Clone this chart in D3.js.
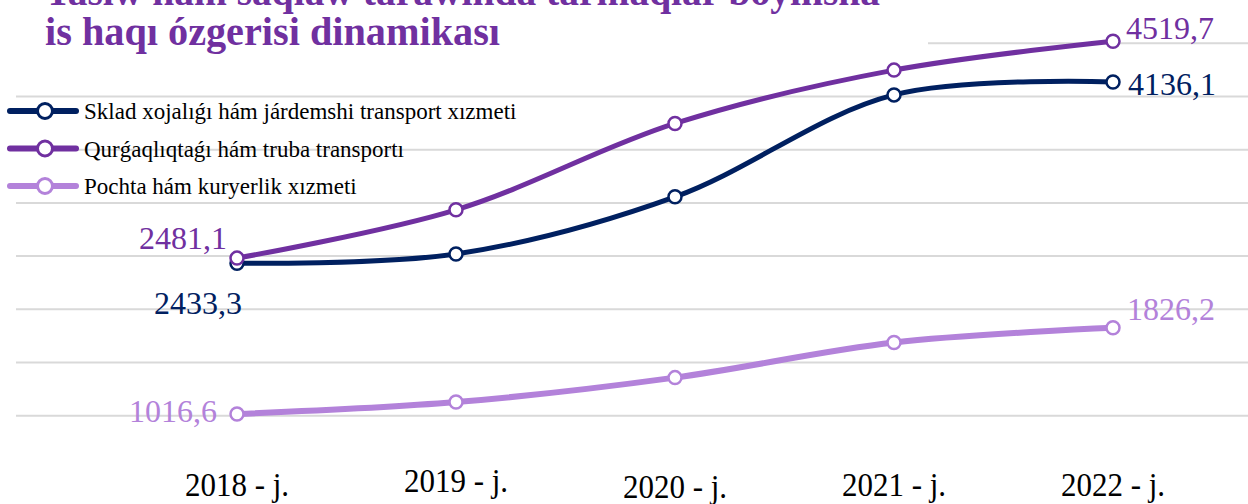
<!DOCTYPE html>
<html>
<head>
<meta charset="utf-8">
<script src="https://cdn.jsdelivr.net/npm/d3@7"></script>
<style>
  body { margin: 0; background: #fff; }
  svg { display: block; }
</style>
</head>
<body>
<script>
const WIDTH = 1248;
const HEIGHT = 504;

// categories
var YEARS = ["2018 - j.", "2019 - j.", "2020 - j.", "2021 - j.", "2022 - j."];

// series values
var SKLAD = [2433.3, 2520, 3057, 4015, 4136.1];
var QURGAQ = [2481.1, 2935, 3747, 4248, 4519.7];
var POCHTA = [1016.6, 1128, 1358, 1688, 1826.2];

var SERIES_NAMES = [
  "Sklad xojalıǵı hám járdemshi transport xızmeti",
  "Qurǵaqlıqtaǵı hám truba transportı",
  "Pochta hám kuryerlik xızmeti"
];

var GRID_TICKS = [1000, 1500, 2000, 2500, 3000, 3500, 4000, 4500];

var TITLE_LINES = ["Tasıw hám saqlaw tarawında tarmaqlar boyınsha", "is haqı ózgerisi dinamikası"];

var COLORS = ["#002060", "#7030A0", "#B382DA"];

var series = [
  { name: SERIES_NAMES[0], values: SKLAD, color: COLORS[0], width: 5 },
  { name: SERIES_NAMES[1], values: QURGAQ, color: COLORS[1], width: 5 },
  { name: SERIES_NAMES[2], values: POCHTA, color: COLORS[2], width: 6 }
];

//DEFINE scales
var xScale = d3.scalePoint().domain(YEARS).range([237, 1113]);
var yScale = d3.scaleLinear().domain([1000, 4500]).range([415.7, 43.3]);

var fmt = (v) => d3.format(".1f")(v).replace(".", ",");

//Create SVG element
var svg = d3.select("body").append("svg")
  .attr("width", WIDTH)
  .attr("height", HEIGHT);

//Gridlines
svg.append("g")
  .selectAll("line")
  .data(GRID_TICKS)
  .enter()
  .append("line")
  .attr("x1", 16)
  .attr("x2", WIDTH)
  .attr("y1", (d) => yScale(d))
  .attr("y2", (d) => yScale(d))
  .attr("stroke", "#d9d9d9")
  .attr("stroke-width", 2);

//Title (box covers the top gridline)
svg.append("rect")
  .attr("x", 0).attr("y", 0)
  .attr("width", 928).attr("height", 58)
  .attr("fill", "#fff");

svg.append("g")
  .selectAll("text")
  .data(TITLE_LINES)
  .enter()
  .append("text")
  .text((d) => d)
  .attr("x", 45)
  .attr("y", (d, i) => 5 + i * 40)
  .attr("textLength", (d, i) => (i === 0 ? 835 : 455))
  .attr("lengthAdjust", "spacingAndGlyphs")
  .attr("font-family", "'Liberation Serif', serif")
  .attr("font-weight", "bold")
  .attr("font-size", "39px")
  .attr("fill", "#7030A0");

//Lines
var line = d3.line()
  .x((d, i) => xScale(YEARS[i]))
  .y((d) => yScale(d))
  .curve(d3.curveCatmullRom.alpha(0.5));

var gSeries = svg.append("g")
  .selectAll("g")
  .data(series)
  .enter()
  .append("g");

gSeries.append("path")
  .attr("d", (s) => line(s.values))
  .attr("fill", "none")
  .attr("stroke", (s) => s.color)
  .attr("stroke-width", (s) => s.width)
  .attr("stroke-linecap", "round");

gSeries.selectAll("circle")
  .data((s) => s.values.map((v, i) => ({ v: v, i: i, color: s.color })))
  .enter()
  .append("circle")
  .attr("cx", (d) => xScale(YEARS[d.i]))
  .attr("cy", (d) => yScale(d.v))
  .attr("r", 6.5)
  .attr("fill", "#fff")
  .attr("stroke", (d) => d.color)
  .attr("stroke-width", 2.5);

//Data labels: first and last value of each series
var labelPos = [
  { s: 0, i: 0, dx: 5, dy: 51, anchor: "end" },
  { s: 0, i: 4, dx: 15, dy: 13, anchor: "start" },
  { s: 1, i: 0, dx: -10, dy: -9, anchor: "end" },
  { s: 1, i: 4, dx: 13, dy: -2, anchor: "start" },
  { s: 2, i: 0, dx: -20, dy: 8, anchor: "end" },
  { s: 2, i: 4, dx: 14, dy: -8, anchor: "start" }
];

svg.append("g")
  .selectAll("text")
  .data(labelPos)
  .enter()
  .append("text")
  .text((d) => fmt(series[d.s].values[d.i]))
  .attr("x", (d) => xScale(YEARS[d.i]) + d.dx)
  .attr("y", (d) => yScale(series[d.s].values[d.i]) + d.dy)
  .attr("text-anchor", (d) => d.anchor)
  .attr("font-family", "'Liberation Serif', serif")
  .attr("font-size", "32px")
  .attr("fill", (d) => series[d.s].color);

//X axis labels
var xLabelShift = [0, -4, 2, 0, 0];
svg.append("g")
  .selectAll("text")
  .data(YEARS)
  .enter()
  .append("text")
  .text((d) => d)
  .attr("text-anchor", "middle")
  .attr("transform", (d, i) => "translate(" + xScale(d) + "," + (496 + xLabelShift[i]) + ") scale(1,1.12)")
  .attr("font-family", "'Liberation Serif', serif")
  .attr("font-size", "31px")
  .attr("fill", "#000");

//Legend
var legend = svg.append("g")
  .selectAll("g")
  .data(series)
  .enter()
  .append("g")
  .attr("transform", (d, i) => "translate(0," + (111 + i * 37.5) + ")");

legend.append("line")
  .attr("x1", 10).attr("x2", 76)
  .attr("stroke", (d) => d.color)
  .attr("stroke-width", 6)
  .attr("stroke-linecap", "round");

legend.append("circle")
  .attr("cx", 45)
  .attr("r", 7.5)
  .attr("fill", "#fff")
  .attr("stroke", (d) => d.color)
  .attr("stroke-width", 3);

legend.append("text")
  .text((d) => d.name)
  .attr("x", 84)
  .attr("y", 8)
  .attr("font-family", "'Liberation Serif', serif")
  .attr("font-size", "23px")
  .attr("fill", "#000");
</script>
</body>
</html>
